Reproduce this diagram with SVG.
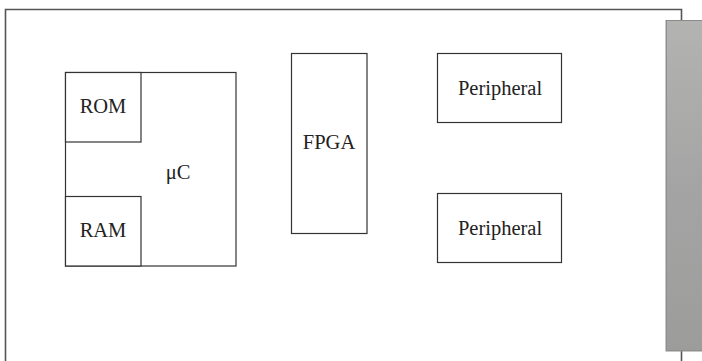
<svg xmlns="http://www.w3.org/2000/svg" width="702" height="361" viewBox="0 0 702 361">
  <style>
    .box { fill: #ffffff; stroke: #333333; stroke-width: 1.2; }
    .board { fill: none; stroke: #555555; stroke-width: 1.6; }
    .lbl { font-family: "Liberation Serif", "Times New Roman", serif; font-size: 20.5px; fill: #222222; text-anchor: middle; }
  </style>
  <defs>
    <linearGradient id="edgeFill" x1="0" y1="0" x2="0" y2="1">
      <stop offset="0" stop-color="#b3b4b1"/>
      <stop offset="0.5" stop-color="#a4a4a4"/>
      <stop offset="1" stop-color="#9c9d9b"/>
    </linearGradient>
  </defs>
  <rect width="702" height="361" fill="#ffffff"/>

  <!-- circuit board outline -->
  <g id="board">
    <path class="board" d="M5.5,361 V9.5 H681.5 V21"/>
    <path class="board" d="M681.5,350 V361"/>
  </g>

  <!-- edge connector -->
  <g id="edge-connector">
    <rect x="665.5" y="20" width="37" height="331.5" fill="#8f8f8f"/>
    <rect x="667" y="20" width="35" height="330" fill="url(#edgeFill)"/>
    <line x1="667" y1="20.5" x2="702" y2="20.5" stroke="#8a8a8a" stroke-width="1"/>
  </g>

  <g id="uC">
    <rect class="box" x="65.5" y="72.5" width="170.5" height="193.5"/>
    <text class="lbl" x="178" y="179">μC</text>
  </g>
  <g id="rom">
    <rect class="box" x="65.5" y="72.5" width="75.5" height="69.5"/>
    <text class="lbl" x="103" y="113">ROM</text>
  </g>
  <g id="ram">
    <rect class="box" x="65.5" y="196.5" width="75.5" height="69.5"/>
    <text class="lbl" x="103" y="237">RAM</text>
  </g>
  <g id="fpga">
    <rect class="box" x="291.5" y="53.5" width="75.5" height="180"/>
    <text class="lbl" x="329" y="149">FPGA</text>
  </g>
  <g id="peripheral-1">
    <rect class="box" x="437.5" y="53.5" width="124" height="69"/>
    <text class="lbl" x="500" y="95">Peripheral</text>
  </g>
  <g id="peripheral-2">
    <rect class="box" x="437.5" y="193.5" width="124" height="69"/>
    <text class="lbl" x="500" y="235">Peripheral</text>
  </g>

  <!-- no connectors are drawn between the blocks -->
  <g id="connectors"/>
</svg>
